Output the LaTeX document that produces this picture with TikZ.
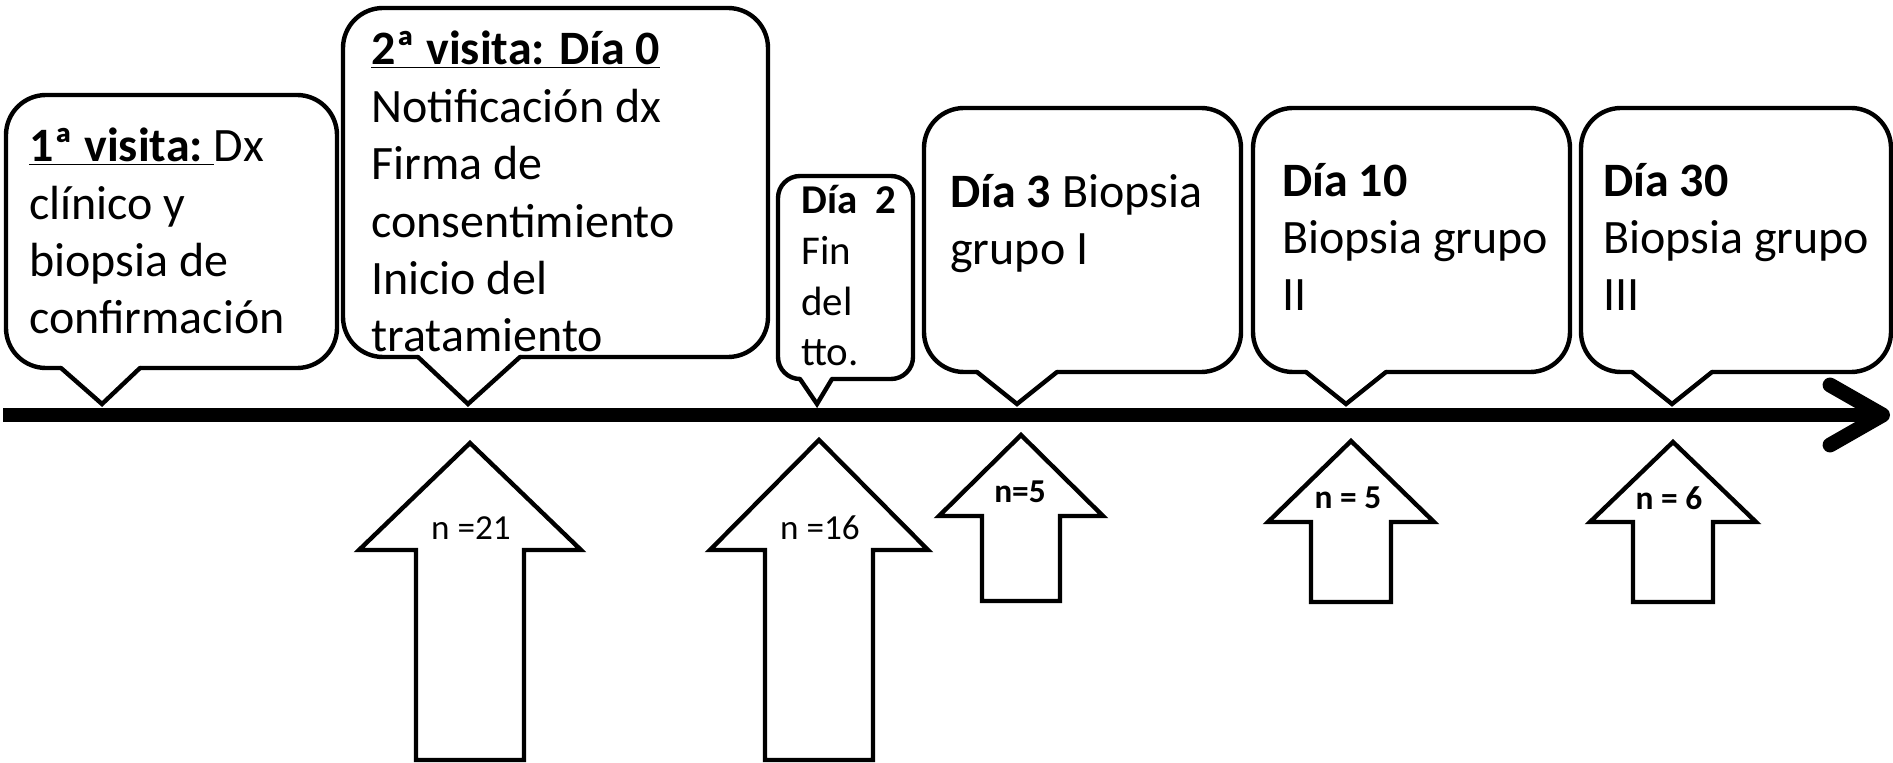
\documentclass[tikz,border=0pt]{standalone}
\usepackage{fontspec}
\setmainfont{Carlito}
\usetikzlibrary{positioning, fit, arrows.meta}

\begin{document}
\begin{tikzpicture}[
    x=0.02cm, y=-0.02cm,
    bubble/.style={draw=black, fill=white, line width=2.5pt, rounded corners=0.8cm, inner sep=0pt},
    beak/.style={draw=black, line width=2.5pt, line cap=round, line join=miter},
    txt/.style={anchor=base west, align=left, inner sep=0pt, font=\fontsize{27.3}{32.7}\selectfont},
    smalltxt/.style={txt, font=\fontsize{23.3}{29}\selectfont},
    timeline/.style={line width=8.5pt, -{Straight Barb[length=1.05cm, width=1.2cm, round]}},
    block/.style={draw=black, fill=white, line width=2.5pt, line join=miter},
    count/.style={inner sep=0pt, font=\fontsize{20}{24}\selectfont},
    boldcount/.style={inner sep=0pt, font=\fontsize{19}{23}\selectfont\bfseries}
]
\useasboundingbox (0,0) rectangle (1893,763);

% Callout boxes
\node[bubble, fit={(6,95) (337,368)}] (b1) {};
\node[bubble, fit={(343,8) (768,357)}] (b2) {};
\node[bubble, rounded corners=0.44cm, fit={(778,176) (913,379)}] (b3) {};
\node[bubble, fit={(924,108) (1241,372)}] (b4) {};
\node[bubble, fit={(1253,108) (1570,372)}] (b5) {};
\node[bubble, fit={(1581,108) (1891,372)}] (b6) {};

% Pointers down to the time line
\foreach \xl/\xr/\yb/\tx in {61/140/368/102, 418/520/357/468, 800/832/379/817, 977/1057/372/1017, 1306/1386/372/1346, 1632/1712/372/1672}
{
    \fill[white] (\xl,\yb-3) -- (\xr,\yb-3) -- (\xr,\yb) -- (\tx,404) -- (\xl,\yb) -- cycle;
    \draw[beak] (\xl,\yb) -- (\tx,404) -- (\xr,\yb);
}

% Texts of the visits (anchored on the last line)
\node[txt] (v1) at (29,334) {\underline{\textbf{1ª visita:}~}Dx\\clínico y\\biopsia de\\confirmación};
\node[txt] (v2) at (371,352) {\underline{\textbf{2ª visita: Día 0}}\\Notificación dx\\Firma de\\consentimiento\\Inicio del\\tratamiento};
\node[smalltxt] (v3) at (801,366) {\textbf{Día~~2}\\Fin\\del\\tto.};
\node[txt] (v4) at (950,265) {\textbf{Día 3} Biopsia\\grupo I};
\node[txt] (v5) at (1282,311) {\textbf{Día 10}\\Biopsia grupo\\II};
\node[txt] (v6) at (1603,311) {\textbf{Día 30}\\Biopsia grupo\\III};

% Time line
\coordinate (start) at (3,415);
\coordinate (end) at (1890,415);
\draw[timeline] (start) -- (end);

% Block arrows with the number of patients
\foreach \cx/\ty/\hy/\hw/\sw/\by in {470/443/550/111/54/760, 819/440/550/109/54/760, 1021/435/516/82/39/601, 1351/441/522/83/40/602, 1673/442/522/83/40/602}
{
    \draw[block] (\cx,\ty) -- (\cx+\hw,\hy) -- (\cx+\sw,\hy) -- (\cx+\sw,\by) -- (\cx-\sw,\by) -- (\cx-\sw,\hy) -- (\cx-\hw,\hy) -- cycle;
}

\node[count] (n1) at (471,528) {n =21};
\node[count] (n2) at (820,528) {n =16};
\node[boldcount] (n3) at (1020,492) {n=5};
\node[boldcount] (n4) at (1348,498) {n = 5};
\node[boldcount] (n5) at (1669,498) {n = 6};

\end{tikzpicture}
\end{document}
